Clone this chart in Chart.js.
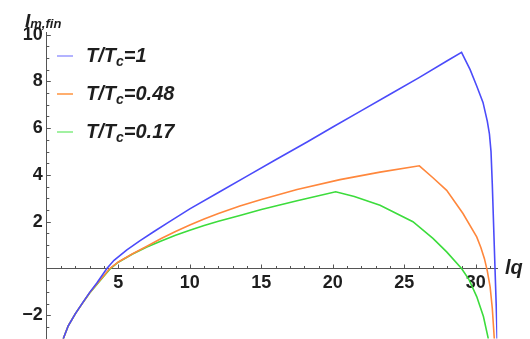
<!DOCTYPE html>
<html>
<head>
<meta charset="utf-8">
<script src="https://cdn.jsdelivr.net/npm/chart.js@4.4.0/dist/chart.umd.min.js"></script>
<style>
  html, body { margin: 0; padding: 0; background: #fff; }
  #wrap { width: 530px; height: 339px; position: relative; }
</style>
</head>
<body>
<div id="wrap"><canvas id="chart"></canvas></div>
<script>
// waarden
const lqBlue = [1.15, 1.5, 2, 2.5, 3, 3.5, 4.2, 4.7, 5.6, 6.5, 7.5, 8.5, 10, 12, 14, 16, 18.2, 20, 22, 24, 26, 28, 29, 29.6, 30.06, 30.5, 30.8, 30.95, 31.06, 31.15, 31.34, 31.42, 31.49];
const imBlue = [-3, -2.45, -1.93, -1.47, -1.02, -0.62, 0, 0.35, 0.8, 1.18, 1.58, 1.97, 2.55, 3.25, 3.95, 4.65, 5.41, 6.05, 6.75, 7.45, 8.15, 8.88, 9.24, 8.5, 7.8, 7.1, 6.3, 5.75, 5.0, 3.6, 0, -1.5, -3];

const lqOrange = [1.15, 1.5, 2, 2.5, 3, 3.5, 4, 4.4, 5, 6, 7, 8, 9, 10, 11, 12, 13.5, 15, 17.5, 20.5, 23.3, 26.05, 27, 27.96, 29.1, 30.06, 30.35, 30.6, 30.8, 31.0, 31.15, 31.29];
const imOrange = [-3, -2.45, -1.93, -1.48, -1.04, -0.66, -0.3, 0, 0.28, 0.63, 0.95, 1.28, 1.58, 1.86, 2.12, 2.35, 2.67, 2.95, 3.38, 3.8, 4.12, 4.39, 3.88, 3.34, 2.35, 1.35, 0.9, 0.42, -0.1, -0.8, -1.7, -3];

const lqGreen = [1.15, 1.5, 2, 2.5, 3, 3.5, 4, 4.45, 5, 6, 7, 8, 9, 10, 11, 12, 13.5, 15, 17.5, 20.2, 21.5, 23.3, 25.6, 27, 27.96, 29, 29.5, 30.06, 30.53, 30.87];
const imGreen = [-3, -2.45, -1.93, -1.48, -1.05, -0.68, -0.32, 0, 0.27, 0.62, 0.92, 1.18, 1.42, 1.64, 1.84, 2.02, 2.27, 2.52, 2.9, 3.28, 3.08, 2.7, 2.0, 1.29, 0.71, 0, -0.45, -1.2, -2.05, -3];

const ratios = ['1', '0.48', '0.17'];
const lineColors = ['rgb(75,75,250)', 'rgb(255,135,60)', 'rgb(60,220,60)'];
const swatchColors = ['#a0a0ff', '#ff9a4a', '#8aee8a'];

const xTicksMajor = [5, 10, 15, 20, 25, 30];
const yTicksMajor = [-2, 2, 4, 6, 8, 10];

function pts(xs, ys) {
  return xs.map((x, i) => ({ x: x, y: ys[i] }));
}

const FONT = "'Liberation Sans', Arial, sans-serif";

// tekst met subscript tekenen
function drawSub(ctx, x, y, parts) {
  parts.forEach(p => {
    ctx.font = 'italic bold ' + p.size + 'px ' + FONT;
    ctx.fillText(p.t, x, y + (p.dy || 0));
    x += ctx.measureText(p.t).width;
  });
}

const axesPlugin = {
  id: 'axesPlugin',
  beforeDatasetsDraw(chart) {
    const ctx = chart.ctx;
    const xs = chart.scales.x, ys = chart.scales.y;
    const y0 = ys.getPixelForValue(0);
    const x0 = xs.getPixelForValue(0);
    ctx.save();
    ctx.strokeStyle = '#555';
    ctx.lineWidth = 1;
    // x ticks (omhoog)
    for (let v = 1; v <= 31; v++) {
      const px = Math.round(xs.getPixelForValue(v)) + 0.5;
      const len = v % 5 === 0 ? 4 : 2.5;
      ctx.beginPath(); ctx.moveTo(px, y0); ctx.lineTo(px, y0 - len); ctx.stroke();
    }
    // y ticks (naar rechts)
    for (let v = -3; v <= 10; v += 0.5) {
      if (v === 0) continue;
      const py = Math.round(ys.getPixelForValue(v)) + 0.5;
      const len = v % 2 === 0 ? 4 : 2.5;
      ctx.beginPath(); ctx.moveTo(x0, py); ctx.lineTo(x0 + len, py); ctx.stroke();
    }
    ctx.restore();
  },
  afterDraw(chart) {
    const ctx = chart.ctx;
    ctx.save();
    ctx.fillStyle = '#1e1e1e';
    ctx.textBaseline = 'alphabetic';
    // as-labels
    drawSub(ctx, 25, 27, [{ t: 'I', size: 19 }, { t: 'm,fin', size: 13, dy: 1 }]);
    ctx.font = 'italic bold 20px ' + FONT;
    ctx.fillText('lq', 505, 274);
    // legenda
    ratios.forEach((r, i) => {
      const ly = 56 + i * 38;
      ctx.strokeStyle = swatchColors[i];
      ctx.lineWidth = 1.6;
      ctx.beginPath(); ctx.moveTo(57, ly); ctx.lineTo(73, ly); ctx.stroke();
      drawSub(ctx, 86, ly + 6, [
        { t: 'T/T', size: 20 },
        { t: 'c', size: 14, dy: 4 },
        { t: '=' + r, size: 20 }
      ]);
    });
    ctx.restore();
  }
};

new Chart(document.getElementById('chart'), {
  type: 'line',
  data: {
    datasets: [
      { data: pts(lqBlue, imBlue), borderColor: lineColors[0] },
      { data: pts(lqOrange, imOrange), borderColor: lineColors[1] },
      { data: pts(lqGreen, imGreen), borderColor: lineColors[2] }
    ].map(d => Object.assign(d, { borderWidth: 1.6, pointRadius: 0, tension: 0, fill: false }))
  },
  options: {
    responsive: true,
    maintainAspectRatio: false,
    animation: false,
    layout: { autoPadding: false, padding: { top: 32.2, right: 32.7, bottom: 0.3, left: 0 } },
    plugins: { legend: { display: false }, tooltip: { enabled: false } },
    scales: {
      x: {
        type: 'linear',
        min: 0,
        max: 31.5,
        position: { y: 0 },
        afterFit(scale) {
          scale.height = 0;
          scale.paddingLeft = 0; scale.paddingRight = 0;
          scale.paddingTop = 0; scale.paddingBottom = 0;
        },
        grid: { display: true, drawOnChartArea: false, drawTicks: false },
        border: { display: true, color: '#555', width: 1 },
        ticks: {
          stepSize: 5,
          includeBounds: false,
          padding: 4,
          maxRotation: 0,
          color: '#1e1e1e',
          font: { family: FONT, size: 18, weight: 'bold' },
          callback: v => xTicksMajor.includes(v) ? String(v) : ''
        }
      },
      y: {
        type: 'linear',
        min: -3,
        max: 10.1,
        position: 'left',
        afterFit(scale) {
          scale.width = 46.8;
          scale.paddingTop = 0; scale.paddingBottom = 0;
        },
        grid: { display: true, drawOnChartArea: false, drawTicks: false },
        border: { display: true, color: '#555', width: 1 },
        ticks: {
          stepSize: 2,
          includeBounds: false,
          padding: 4,
          color: '#1e1e1e',
          font: { family: FONT, size: 18, weight: 'bold' },
          callback: v => yTicksMajor.includes(v) ? String(v).replace('-', '\u2212') : ''
        }
      }
    }
  },
  plugins: [axesPlugin]
});
</script>
</body>
</html>
